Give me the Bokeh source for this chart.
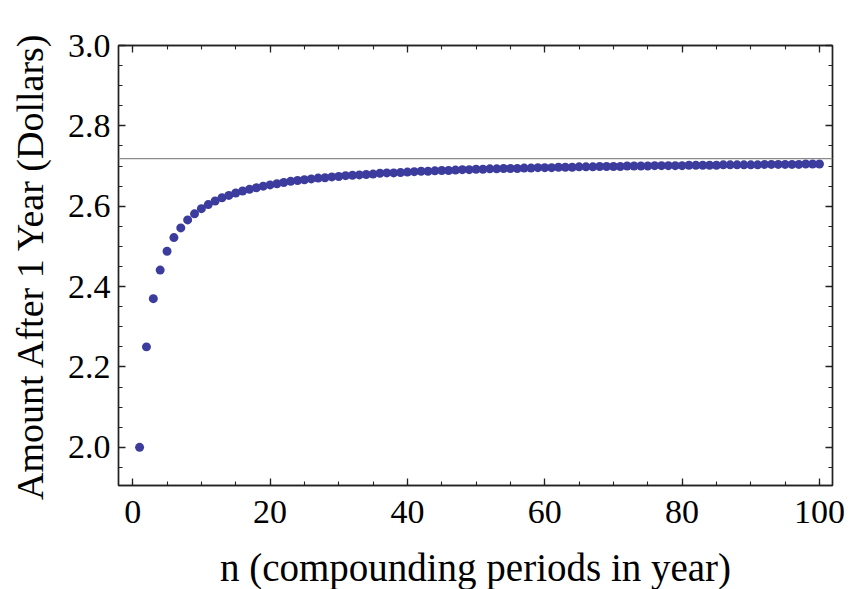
from bokeh.plotting import figure
from bokeh.models import (Range1d, SingleIntervalTicker, LinearAxis, Span,
                          CustomJSTickFormatter, PrintfTickFormatter,
                          ColumnDataSource)
from bokeh.embed import file_html
from bokeh.resources import INLINE

# number of compounding periods per year
periods = list(range(1, 101))
# amount after one year (dollars)
amount = [
    2.000, 2.250, 2.370, 2.441, 2.488, 2.522, 2.546, 2.566, 2.581, 2.594,
    2.604, 2.613, 2.621, 2.627, 2.633, 2.638, 2.642, 2.646, 2.650, 2.653,
    2.656, 2.659, 2.662, 2.664, 2.666, 2.668, 2.670, 2.671, 2.673, 2.674,
    2.676, 2.677, 2.678, 2.679, 2.680, 2.682, 2.683, 2.683, 2.684, 2.685,
    2.686, 2.687, 2.687, 2.688, 2.689, 2.689, 2.690, 2.691, 2.691, 2.692,
    2.692, 2.693, 2.693, 2.694, 2.694, 2.694, 2.695, 2.695, 2.696, 2.696,
    2.696, 2.697, 2.697, 2.697, 2.698, 2.698, 2.698, 2.699, 2.699, 2.699,
    2.699, 2.700, 2.700, 2.700, 2.700, 2.701, 2.701, 2.701, 2.701, 2.701,
    2.702, 2.702, 2.702, 2.702, 2.702, 2.703, 2.703, 2.703, 2.703, 2.703,
    2.703, 2.704, 2.704, 2.704, 2.704, 2.704, 2.704, 2.705, 2.705, 2.705,
]
limit_value = 2.71828  # continuous-compounding limit (e)

x_title = "n (compounding periods in year)"
y_title = "Amount After 1 Year (Dollars)"

FONT = "Liberation Serif"

p = figure(width=852, height=589, output_backend="svg", toolbar_location=None,
           x_range=Range1d(-2.07, 101.9), y_range=Range1d(1.905, 3.0),
           x_axis_location=None, y_axis_location=None,
           frame_width=714, frame_height=440,
           min_border_left=118, min_border_right=20,
           min_border_top=45, min_border_bottom=104,
           background_fill_color="white", border_fill_color="white")
p.xgrid.visible = False
p.ygrid.visible = False
p.outline_line_color = "#222222"
p.outline_line_width = 1.5


def style(ax, labels=True):
    ax.axis_line_color = "#222222"
    ax.axis_line_width = 1.3
    ax.major_tick_in = 7
    ax.major_tick_out = 0
    ax.minor_tick_in = 4
    ax.minor_tick_out = 0
    ax.major_tick_line_color = "#222222"
    ax.minor_tick_line_color = "#222222"
    ax.major_tick_line_width = 1.3
    ax.minor_tick_line_width = 1.1
    ax.major_label_text_font = FONT
    ax.major_label_text_font_size = "34px"
    ax.major_label_text_color = "black"
    ax.axis_label_text_font = FONT
    ax.axis_label_text_font_size = "38px"
    ax.axis_label_text_font_style = "normal"
    ax.axis_label_text_color = "black"
    if not labels:
        ax.formatter = CustomJSTickFormatter(code="return ''")
        ax.major_label_standoff = 0


xt = lambda: SingleIntervalTicker(interval=20, num_minor_ticks=4)
yt = lambda: SingleIntervalTicker(interval=0.2, num_minor_ticks=4)

xb = LinearAxis(ticker=xt(), axis_label=x_title)
style(xb)
xb.axis_label_text_font_size = "39px"
xb.major_label_standoff = 15
xb.axis_label_standoff = 20
p.add_layout(xb, "below")

yl = LinearAxis(ticker=yt(), axis_label=y_title,
                formatter=PrintfTickFormatter(format="%.1f"))
style(yl)
yl.major_label_standoff = 8
yl.axis_label_standoff = 14
p.add_layout(yl, "left")

xa = LinearAxis(ticker=xt())
style(xa, labels=False)
p.add_layout(xa, "above")

yr = LinearAxis(ticker=yt())
style(yr, labels=False)
p.add_layout(yr, "right")

p.add_layout(Span(location=limit_value, dimension="width",
                  line_color="#8a8a8a", line_width=1.3))

src = ColumnDataSource(dict(n=periods, a=amount))
p.scatter("n", "a", source=src, size=9, fill_color="#3c3c9e",
          line_color="#3c3c9e", line_width=0)

open("out.html", "w").write(file_html(p, INLINE))
